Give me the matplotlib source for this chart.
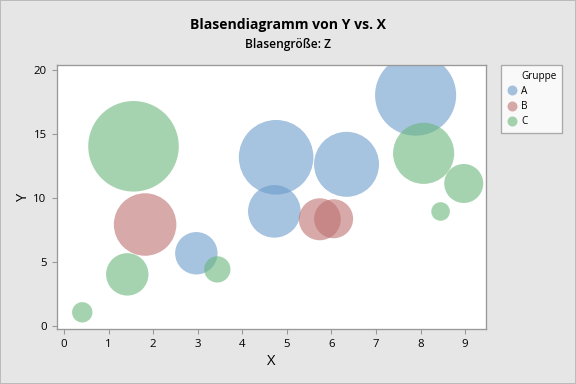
import matplotlib
matplotlib.use("Agg")
import matplotlib.pyplot as plt
import numpy as np

plt.rcParams['font.family'] = ['Open Sans', 'DejaVu Sans']

groups = ["A", "B", "C"]
colors = {"A": "#6b9bcb", "B": "#be7171", "C": "#6bb67b"}

xA = [7.89, 4.76, 6.34, 4.72, 2.97]
yA = [18.04, 13.18, 12.63, 8.95, 5.67]
zA = [19.0, 16.1, 12.2, 8.0, 5.2]

xB = [1.82, 5.74, 6.05]
yB = [7.92, 8.33, 8.37]
zB = [11.3, 5.1, 4.4]

xC = [1.56, 8.07, 8.97, 8.45, 1.42, 3.44, 0.41]
yC = [14.04, 13.49, 11.13, 8.94, 4.02, 4.41, 1.05]
zC = [23.7, 10.8, 4.4, 1.0, 5.2, 2.0, 1.2]

xticks = list(range(0, 10))
yticks = [0, 5, 10, 15, 20]

fig = plt.figure(figsize=(6, 4), dpi=96, facecolor="#e6e6e6")
ax = fig.add_axes([0.0984, 0.1424, 0.8438 - 0.0984, 0.8307 - 0.1424])
ax.set_facecolor("white")

scale = 194.6
data = {"A": (xA, yA, zA), "B": (xB, yB, zB), "C": (xC, yC, zC)}
for g in groups:
    x, y, z = data[g]
    sc = ax.scatter(x, y, s=np.array(z) * scale, color=colors[g], alpha=0.6,
                    edgecolors="none", label=g, clip_on=True)
    sc.set_clip_path(ax.patch)

ax.set_xlim(-0.164, 9.47)
ax.set_ylim(-0.28, 20.4)
ax.set_xticks(xticks)
ax.set_yticks(yticks)
for sp in ax.spines.values():
    sp.set_color("#999999")
    sp.set_linewidth(1.0)
    sp.set_zorder(5)
ax.tick_params(direction="out", length=4, color="#999999", labelsize=8.5,
               labelcolor="black")
ax.set_xlabel("X", fontsize=11, labelpad=3)
ax.set_ylabel("Y", fontsize=11, labelpad=2)

fig.text(0.5, 0.935, "Blasendiagramm von Y vs. X", ha="center", va="center",
         fontsize=10.5, fontweight="bold")
fig.text(0.5, 0.883, "Blasengröße: Z", ha="center", va="center",
         fontsize=9, fontweight="semibold")

blank = plt.Line2D([], [], linestyle="none", marker=None)
handles = [blank] + [plt.Line2D([], [], marker="o", linestyle="none",
                                markersize=7.5, markerfacecolor=colors[g],
                                markeredgecolor="none", alpha=0.6)
                     for g in groups]
labels = ["Gruppe"] + groups
leg = fig.legend(handles, labels, loc="upper left",
                 bbox_to_anchor=(0.870, 0.830), fontsize=7.5,
                 frameon=True, fancybox=False,
                 handletextpad=0.35, borderpad=0.55, labelspacing=0.42,
                 handlelength=1.1, borderaxespad=0)
leg.get_frame().set_edgecolor("#999999")
leg.get_frame().set_linewidth(1.0)
leg.get_frame().set_facecolor("white")

border = plt.Rectangle((0, 0), 1, 1, transform=fig.transFigure, fill=False,
                       edgecolor="#bbbbbb", linewidth=1.5)
fig.patches.append(border)

fig.savefig("out.png", dpi=96, facecolor=fig.get_facecolor())
